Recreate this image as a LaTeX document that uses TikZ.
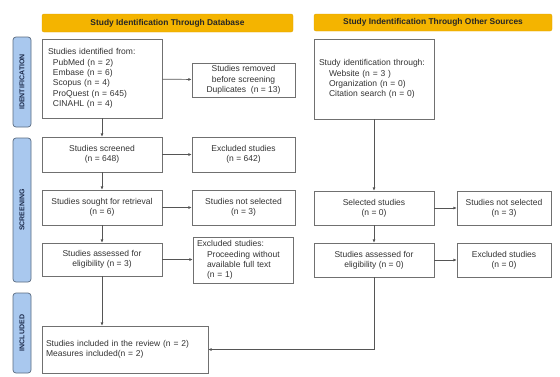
\documentclass[tikz,border=0pt]{standalone}
\usepackage{fontspec}
\setmainfont{Liberation Sans}
\usetikzlibrary{arrows.meta}
\definecolor{boxline}{HTML}{707070}
\definecolor{txt}{HTML}{333333}
\definecolor{bar}{HTML}{F4B400}
\definecolor{barline}{HTML}{E0A400}
\definecolor{sidefill}{HTML}{A9C8EE}
\definecolor{sideline}{HTML}{5A6B80}
\definecolor{sidetxt}{HTML}{1C2A4A}
\definecolor{arr}{HTML}{555555}
\begin{document}
\begin{tikzpicture}[x=1pt,y=-1pt,
  every node/.style={font=\fontsize{8.5}{10.3}\selectfont, text=txt},
  box/.style={draw=boxline, line width=0.7pt, fill=white, align=center, inner sep=2pt},
  lbox/.style={box, align=left, inner xsep=6pt},
  header/.style={fill=bar, draw=barline, line width=0.4pt, rounded corners=2pt, font=\fontsize{8.4}{9}\selectfont\bfseries, text=black!85},
  side/.style={fill=sidefill, draw=sideline, line width=0.7pt, rounded corners=3pt, rotate=90, minimum height=18pt, inner sep=0pt, font=\fontsize{7}{8}\selectfont\bfseries, text=sidetxt},
  conn/.style={draw=arr, line width=0.7pt, -{Latex[length=3.2pt,width=3pt]}},
  line/.style={draw=arr, line width=0.7pt}]
\useasboundingbox (0,0) rectangle (560,376);

% headers
\node[header, minimum width=251pt, minimum height=18pt] (h1) at (167.5,23) {Study Identification Through Database};
\node[header, minimum width=238pt, minimum height=17pt] (h2) at (433,22.5) {Study Indentification Through Other Sources};

% side labels
\node[side, minimum width=90pt] (s1) at (22,82) {IDENTIFICATION};
\node[side, minimum width=144pt] (s2) at (22,210) {SCREENING};
\node[side, minimum width=80pt] (s3) at (22,333) {INCLUDED};

% left column
\node[lbox, text width=108pt, minimum height=79pt] (id) at (102,78.5) {Studies identified from:\\
\hspace*{5pt}PubMed (n = 2)\\
\hspace*{5pt}Embase (n = 6)\\
\hspace*{5pt}Scopus (n = 4)\\
\hspace*{5pt}ProQuest (n = 645)\\
\hspace*{5pt}CINAHL (n = 4)};
\node[box, minimum width=103pt, minimum height=34pt] (rem) at (243.5,80) {Studies removed\\before screening\\Duplicates\ \ (n = 13)};
\node[box, minimum width=120pt, minimum height=35pt] (scr) at (102,154.5) {Studies screened\\(n = 648)};
\node[box, minimum width=103pt, minimum height=35pt] (exc1) at (243.5,154.5) {Excluded studies\\(n = 642)};
\node[box, minimum width=120pt, minimum height=35pt] (sou) at (102,207.5) {Studies sought for retrieval\\(n = 6)};
\node[box, minimum width=103pt, minimum height=35pt] (nsel1) at (243.5,207.5) {Studies not selected\\(n = 3)};
\node[box, minimum width=120pt, minimum height=33pt] (ass) at (102,259.5) {Studies assessed for\\eligibility (n = 3)};
\node[lbox, inner xsep=4pt, text width=92pt, minimum height=46pt] (exc2) at (243,260) {Excluded studies:\\
\hspace*{10pt}Proceeding without\\
\hspace*{10pt}available full text\\
\hspace*{10pt}(n = 1)};
\node[lbox, inner xsep=4pt, text width=158pt, minimum height=47pt] (inc) at (125,349.5) {Studies included in the review (n = 2)\\Measures included(n = 2)};

% right column
\node[lbox, inner xsep=5pt, text width=110pt, minimum height=80pt] (oth) at (374,79) {Study identification through:\\
\hspace*{10pt}Website (n = 3 )\\
\hspace*{10pt}Organization (n = 0)\\
\hspace*{10pt}Citation search (n = 0)};
\node[box, minimum width=120pt, minimum height=34pt] (sel) at (374,208) {Selected studies\\(n = 0)};
\node[box, minimum width=94pt, minimum height=34pt] (nsel2) at (504,208) {Studies not selected\\(n = 3)};
\node[box, minimum width=120pt, minimum height=34pt] (ass2) at (374,260) {Studies assessed for\\eligibility (n = 0)};
\node[box, minimum width=94pt, minimum height=34pt] (exc3) at (504,260) {Excluded studies\\(n = 0)};

% connectors
\draw[conn] (id) -- (scr);
\draw[conn] (id) -- (rem);
\draw[conn] (scr) -- (exc1);
\draw[conn] (scr) -- (sou);
\draw[conn] (sou) -- (nsel1);
\draw[conn] (sou) -- (ass);
\draw[conn] (ass) -- (exc2.west |- ass.east);
\draw[conn] (ass.south) -- (ass.south |- inc.north);
\draw[conn] (oth) -- (sel);
\draw[conn] (sel) -- (nsel2);
\draw[conn] (sel) -- (ass2);
\draw[conn] (ass2) -- (exc3);
\draw[conn] (ass2.south) |- (inc.east);
\end{tikzpicture}
\end{document}
